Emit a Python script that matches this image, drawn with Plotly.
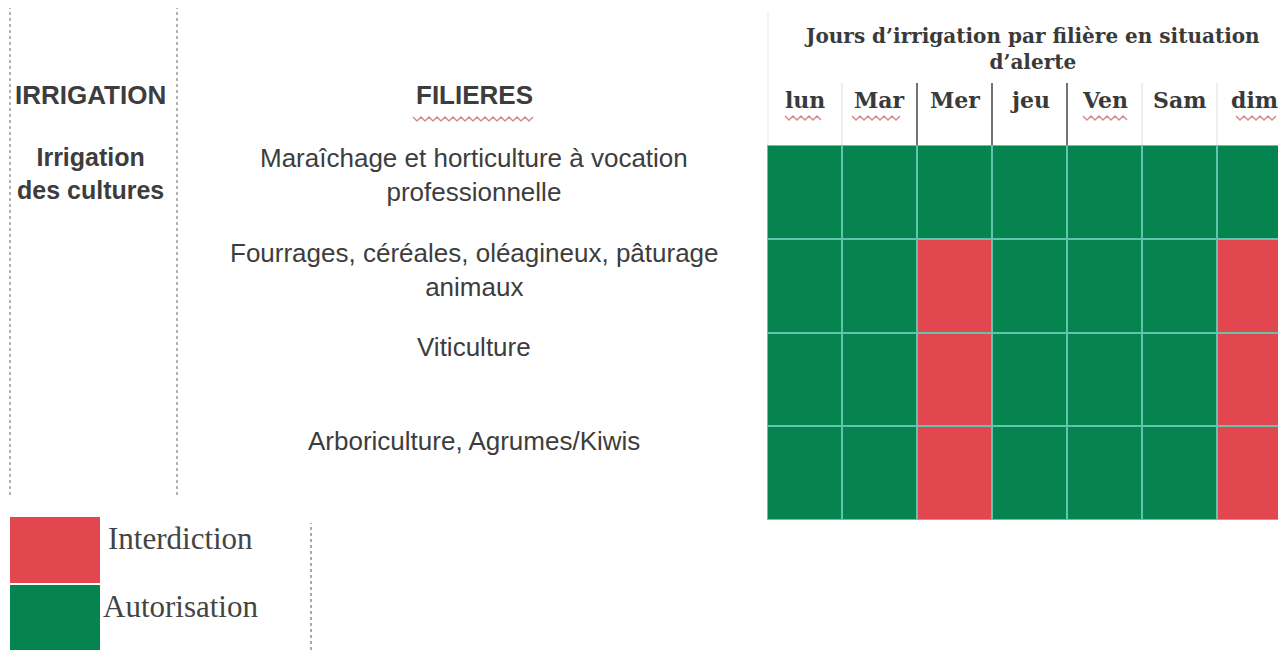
import plotly.graph_objects as go

days = ["lun", "Mar", "Mer", "jeu", "Ven", "Sam", "dim"]
filieres = [
    "Maraîchage et horticulture à vocation<br>professionnelle",
    "Fourrages, céréales, oléagineux, pâturage<br>animaux",
    "Viticulture",
    "Arboriculture, Agrumes/Kiwis",
]
# 1 = Autorisation, 0 = Interdiction
status = [
    [1, 1, 1, 1, 1, 1, 1],
    [1, 1, 0, 1, 1, 1, 0],
    [1, 1, 0, 1, 1, 1, 0],
    [1, 1, 0, 1, 1, 1, 0],
]
legend_labels = ["Interdiction", "Autorisation"]
title_text = "Jours d’irrigation par filière en situation<br>d’alerte"

RED = "#e2464f"
GREEN = "#06844f"
OFF = 8  # page body margin
PAGE_W, PAGE_H = 1286, 650
W, H = PAGE_W - OFF, PAGE_H - OFF

fig = go.Figure()
fig.add_trace(go.Heatmap(
    z=status, x=list(range(len(days))), y=list(range(len(filieres))),
    colorscale=[[0, RED], [0.5, RED], [0.5, GREEN], [1, GREEN]],
    zmin=0, zmax=1, showscale=False, xgap=2, ygap=2, hoverinfo="skip",
))


def px_x(p):
    return (p - OFF) / W


def px_y(p):
    return 1 - (p - OFF) / H


fig.update_layout(
    width=W, height=H, margin=dict(l=0, r=0, t=0, b=0),
    paper_bgcolor="white", plot_bgcolor="#63c4ad",
    xaxis=dict(domain=[px_x(767), 1.0], range=[-0.5, -0.5 + (PAGE_W - 767) / 75.0],
               showgrid=False, zeroline=False, showticklabels=False, fixedrange=True),
    yaxis=dict(domain=[px_y(520), px_y(145)], range=[3.5, -0.5],
               showgrid=False, zeroline=False, showticklabels=False, fixedrange=True),
    showlegend=False,
)

sans = "Liberation Sans"
serif = "DejaVu Serif"
grey = "#3d3d3d"

ann = []
ann.append(dict(text="<b>" + title_text + "</b>", x=px_x(1032), y=px_y(49), xref="paper", yref="paper",
                showarrow=False, font=dict(family=serif, size=20, color="#3a3a3a"), align="center",
                xanchor="center", yanchor="middle"))
for i, d in enumerate(days):
    ann.append(dict(text="<b>" + d + "</b>", x=i, y=px_y(100), xref="x", yref="paper", showarrow=False,
                    font=dict(family=serif, size=22, color="#3a3a3a"), xanchor="center", yanchor="middle"))
ann.append(dict(text="<b>IRRIGATION</b>", x=px_x(91), y=px_y(95), xref="paper", yref="paper", showarrow=False,
                font=dict(family=sans, size=26, color=grey), xanchor="center", yanchor="middle"))
ann.append(dict(text="<b>FILIERES</b>", x=px_x(474), y=px_y(95), xref="paper", yref="paper", showarrow=False,
                font=dict(family=sans, size=26, color=grey), xanchor="center", yanchor="middle"))
ann.append(dict(text="<b>Irrigation<br>des cultures</b>", x=px_x(91), y=px_y(174), xref="paper", yref="paper",
                showarrow=False, font=dict(family=sans, size=25, color=grey), xanchor="center", yanchor="middle",
                align="center"))
shifts = [17, 16, 32, 32]
for j, f in enumerate(filieres):
    ann.append(dict(text=f, x=px_x(474), y=j, xref="paper", yref="y", yshift=shifts[j], showarrow=False,
                    font=dict(family=sans, size=26, color=grey), xanchor="center", yanchor="middle",
                    align="center"))
ann.append(dict(text=legend_labels[0], x=px_x(106), y=px_y(538), xref="paper", yref="paper", showarrow=False,
                font=dict(family="Liberation Serif", size=31, color="#444"), xanchor="left", yanchor="middle"))
ann.append(dict(text=legend_labels[1], x=px_x(101), y=px_y(606), xref="paper", yref="paper", showarrow=False,
                font=dict(family="Liberation Serif", size=31, color="#444"), xanchor="left", yanchor="middle"))
fig.update_layout(annotations=ann)

shapes = []
shapes.append(dict(type="rect", xref="paper", yref="paper", x0=px_x(10), x1=px_x(100), y0=px_y(583), y1=px_y(517),
                   fillcolor=RED, line=dict(width=0)))
shapes.append(dict(type="rect", xref="paper", yref="paper", x0=px_x(10), x1=px_x(100), y0=0, y1=px_y(585),
                   fillcolor=GREEN, line=dict(width=0)))
for xv in [10, 177]:
    shapes.append(dict(type="line", xref="paper", yref="paper", x0=px_x(xv), x1=px_x(xv), y0=px_y(495), y1=1.0,
                       line=dict(color="#666", width=1, dash="dot")))
shapes.append(dict(type="line", xref="paper", yref="paper", x0=px_x(311), x1=px_x(311), y0=0, y1=px_y(523),
                   line=dict(color="#555", width=1, dash="dot")))
for i in range(1, len(days)):
    dark = i in (2, 3, 4)
    shapes.append(dict(type="line", xref="x", yref="paper", x0=i - 0.5, x1=i - 0.5, y0=px_y(145), y1=px_y(83),
                       line=dict(color="#444" if dark else "#ddd", width=1.5 if dark else 1)))
shapes.append(dict(type="line", xref="paper", yref="paper", x0=px_x(768), x1=px_x(768), y0=px_y(145), y1=px_y(12),
                   line=dict(color="#e8e8e8", width=1)))


# spell-check squiggles (decorative)
def squiggle(x0, x1, y):
    step = 4
    pts = []
    x = x0
    k = 0
    while x <= x1:
        yy = y + (2 if k % 2 else -2)
        pts.append((px_x(x), px_y(yy)))
        x += step
        k += 1
    path = "M " + " L ".join(f"{a},{b}" for a, b in pts)
    return dict(type="path", xref="paper", yref="paper", path=path, line=dict(color="#d98a8e", width=1.5))


for (a, b, yy) in [(413, 535, 119), (785, 822, 118), (852, 902, 118), (1083, 1127, 118), (1236, 1278, 118)]:
    shapes.append(squiggle(a, b, yy))
fig.update_layout(shapes=shapes)

fig.write_html("out.html")
